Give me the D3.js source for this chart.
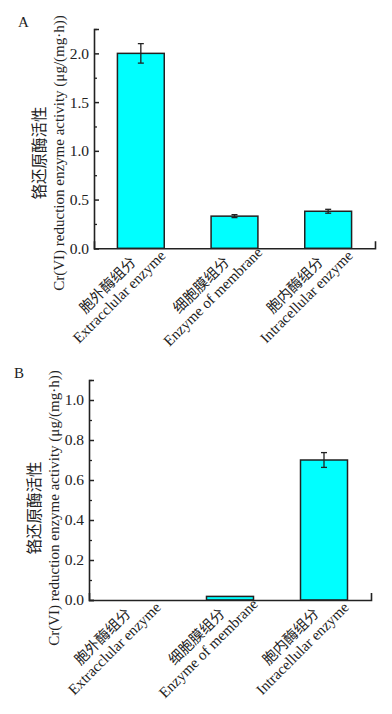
<!DOCTYPE html>
<html lang="zh">
<head>
<meta charset="utf-8">
<title>Cr(VI) reduction enzyme activity</title>
<script src="https://d3js.org/d3.v7.min.js"></script>
<style>
  body { margin: 0; background: #fff; }
  svg text { font-family: "Liberation Serif", "Times New Roman", "Noto Sans CJK SC", serif; fill: #222; }
</style>
</head>
<body>
<script>
// categories (Chinese / English, as printed)
var categoriesZh = ["胞外酶组分", "细胞膜组分", "胞内酶组分"]
var categoriesEn = ["Extracclular enzyme", "Enzyme of membrane", "Intracellular enzyme"]

// panel A values, μg/(mg·h)
var activityA = [2.00, 0.33, 0.38]
var errorA = [0.10, 0.015, 0.02]
var ticksA = [0, 0.5, 1.0, 1.5, 2.0]
var minorTicksA = [0.25, 0.75, 1.25, 1.75, 2.25]

// panel B values
var activityB = [0, 0.018, 0.70]
var errorB = [0, 0, 0.037]
var ticksB = [0, 0.2, 0.4, 0.6, 0.8, 1.0]
var minorTicksB = [0.1, 0.3, 0.5, 0.7, 0.9, 1.1]

var titleZh = "铬还原酶活性"
var titleEn = "Cr(VI) reduction enzyme activity (μg/(mg·h))"

var W = 392, H = 714
var ink = "#222"

var svg = d3.select("body").append("svg")
  .attr("width", W)
  .attr("height", H)

drawPanel({ label: "A", left: 94, right: 375, top: 29, bottom: 248.3, yMax: 2.25,
  values: activityA, errors: errorA, ticks: ticksA, minor: minorTicksA, titleY: 153 })
drawPanel({ label: "B", left: 89, right: 371, top: 380, bottom: 600, yMax: 1.1,
  values: activityB, errors: errorB, ticks: ticksB, minor: minorTicksB, titleY: 508 })

function drawPanel(p) {
  var g = svg.append("g")

  var x = d3.scaleBand()
    .domain(categoriesEn)
    .range([p.left, p.right])
    .paddingInner(0.5)
    .paddingOuter(0.25)

  var y = d3.scaleLinear()
    .domain([0, p.yMax])
    .range([p.bottom, p.top])

  var rows = categoriesEn.map(function (c, i) {
    return { en: c, zh: categoriesZh[i], v: p.values[i], e: p.errors[i] }
  })

  // bars
  g.selectAll("rect.bar")
    .data(rows.filter(function (d) { return d.v > 0 }))
    .enter().append("rect")
    .attr("class", "bar")
    .attr("x", function (d) { return x(d.en) })
    .attr("y", function (d) { return y(d.v) })
    .attr("width", x.bandwidth())
    .attr("height", function (d) { return y(0) - y(d.v) })
    .attr("fill", "#00ffff")
    .attr("stroke", ink)
    .attr("stroke-width", 1.5)

  // error bars
  var eb = g.selectAll("g.err")
    .data(rows.filter(function (d) { return d.e > 0 }))
    .enter().append("g")
    .attr("class", "err")
    .attr("stroke", ink)
    .attr("stroke-width", 1.3)
  eb.append("line")
    .attr("x1", function (d) { return x(d.en) + x.bandwidth() / 2 })
    .attr("x2", function (d) { return x(d.en) + x.bandwidth() / 2 })
    .attr("y1", function (d) { return y(d.v - d.e) })
    .attr("y2", function (d) { return y(d.v + d.e) })
  eb.selectAll("line.cap")
    .data(function (d) { return [[d, d.v - d.e], [d, d.v + d.e]] })
    .enter().append("line")
    .attr("class", "cap")
    .attr("x1", function (d) { return x(d[0].en) + x.bandwidth() / 2 - 3 })
    .attr("x2", function (d) { return x(d[0].en) + x.bandwidth() / 2 + 3 })
    .attr("y1", function (d) { return y(d[1]) })
    .attr("y2", function (d) { return y(d[1]) })

  // minor ticks, inward
  g.append("g")
    .attr("transform", "translate(" + p.left + ",0)")
    .call(d3.axisLeft(y).tickValues(p.minor).tickSize(-3).tickSizeOuter(0).tickFormat(""))
    .call(function (a) { a.select(".domain").remove() })
    .selectAll("line").attr("stroke", ink).attr("stroke-width", 1.3)

  // y axis with inward major ticks, cap at top
  var ya = g.append("g")
    .attr("transform", "translate(" + p.left + ",0)")
    .call(d3.axisLeft(y).tickValues(p.ticks).tickSize(-5).tickSizeOuter(-5)
      .tickPadding(5).tickFormat(d3.format(".1f")))
  ya.select(".domain").attr("stroke", ink).attr("stroke-width", 1.6)
  ya.selectAll(".tick line").attr("stroke", ink).attr("stroke-width", 1.5)
  ya.selectAll(".tick text")
    .attr("fill", ink)
    .style("font-size", "15.5px")
    .style("font-family", "'Liberation Serif', serif")

  // x axis line with the end tick pointing up
  var xa = g.append("g")
    .attr("transform", "translate(0," + p.bottom + ")")
    .call(d3.axisBottom(x).tickValues([]).tickSizeOuter(-7))
  xa.select(".domain").attr("stroke", ink).attr("stroke-width", 1.6)

  // category labels, two lines, rotated
  var lab = g.selectAll("g.cat")
    .data(rows)
    .enter().append("g")
    .attr("class", "cat")
    .attr("transform", function (d) {
      return "translate(" + (x(d.en) + x.bandwidth() / 2 - 28) + "," + (p.bottom + 42) + ") rotate(-45)"
    })
  lab.append("text")
    .attr("y", -9)
    .attr("text-anchor", "middle")
    .attr("dominant-baseline", "central")
    .style("font-size", "14.5px")
    .style("font-family", "'Noto Sans CJK SC', sans-serif")
    .attr("fill", "#444")
    .text(function (d) { return d.zh })
  lab.append("text")
    .attr("y", 9)
    .attr("text-anchor", "middle")
    .attr("dominant-baseline", "central")
    .style("font-size", "15px")
    .text(function (d) { return d.en })

  // y title, two lines
  var t = g.append("g")
    .attr("transform", "translate(" + (p.left - 46) + "," + p.titleY + ") rotate(-90)")
  t.append("text")
    .attr("y", -10)
    .attr("text-anchor", "middle")
    .attr("dominant-baseline", "central")
    .style("font-size", "15.5px")
    .style("font-family", "'Noto Sans CJK SC', sans-serif")
    .attr("fill", "#444")
    .text(titleZh)
  t.append("text")
    .attr("y", 11)
    .attr("text-anchor", "middle")
    .attr("dominant-baseline", "central")
    .style("font-size", "15px")
    .text(titleEn)

  // panel letter
  g.append("text")
    .attr("x", p.label == "A" ? 18 : 14)
    .attr("y", p.top - 2)
    .style("font-size", "15px")
    .text(p.label)
}
</script>
</body>
</html>
